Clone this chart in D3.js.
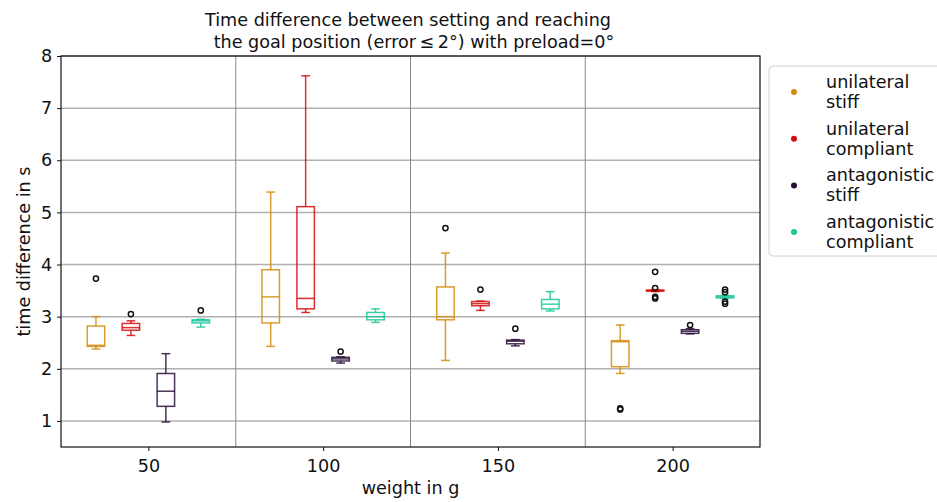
<!DOCTYPE html>
<html>
<head>
<meta charset="utf-8">
<script src="https://cdn.jsdelivr.net/npm/d3@7"></script>
<style>
  body { margin: 0; background: #fff; }
  svg text { font-family: "DejaVu Sans", sans-serif; fill: #111; }
</style>
</head>
<body>
<div id="chart"></div>
<script>
// data
const weights = [50, 100, 150, 200]
const seriesNames = ["unilateral stiff", "unilateral compliant", "antagonistic stiff", "antagonistic compliant"]
const seriesColors = ["#d38b0a", "#d60d0d", "#2c0e3a", "#1ac79b"]
const seriesOffsets = [-15, -5, 5, 15]
const yTicks = [1, 2, 3, 4, 5, 6, 7, 8]

// [whisker low, q1, median, q3, whisker high] for each weight
const uniStiff = [[2.38, 2.43, 2.45, 2.82, 3.0], [2.43, 2.88, 3.38, 3.90, 5.39], [2.16, 2.94, 3.0, 3.57, 4.22], [1.91, 2.04, 2.52, 2.54, 2.84]]
const uniCompliant = [[2.64, 2.74, 2.79, 2.87, 2.92], [3.08, 3.15, 3.35, 5.11, 7.62], [3.12, 3.21, 3.25, 3.29, 3.30], [3.48, 3.49, 3.50, 3.51, 3.52]]
const antStiff = [[0.98, 1.28, 1.57, 1.91, 2.29], [2.11, 2.15, 2.19, 2.22, 2.23], [2.44, 2.48, 2.53, 2.55, 2.56], [2.67, 2.68, 2.72, 2.75, 2.77]]
const antCompliant = [[2.80, 2.88, 2.92, 2.94, 2.95], [2.89, 2.94, 3.0, 3.08, 3.15], [3.11, 3.15, 3.24, 3.33, 3.48], [3.35, 3.36, 3.38, 3.40, 3.41]]

// outliers for each weight
const uniStiffOut = [[3.73], [], [4.70], [1.24, 1.22]]
const uniCompliantOut = [[3.05], [], [3.52], [3.86, 3.55, 3.38, 3.35]]
const antStiffOut = [[], [2.33], [2.77], [2.84]]
const antCompliantOut = [[3.12], [], [], [3.52, 3.47, 3.29, 3.25]]

const allStats = [uniStiff, uniCompliant, antStiff, antCompliant]
const allOutliers = [uniStiffOut, uniCompliantOut, antStiffOut, antCompliantOut]

const W = 937, H = 502
const margin = { top: 56, right: 177, bottom: 55, left: 61 }
const width = W - margin.left - margin.right
const height = H - margin.top - margin.bottom
const fs = 17.6

const svg = d3.select("#chart").append("svg")
    .attr("width", W)
    .attr("height", H)

const g = svg.append("g").attr("transform", `translate(${margin.left},${margin.top})`)

const xScale = d3.scaleLinear().domain([25, 225]).range([0, width])
const yScale = d3.scaleLinear().domain([0.5, 8]).range([height, 0])

// horizontal grid
g.selectAll(".hgrid")
    .data(yTicks)
    .enter()
    .append("line")
    .attr("x1", 0).attr("x2", width)
    .attr("y1", d => yScale(d)).attr("y2", d => yScale(d))
    .attr("stroke", "#b0b0b0")
    .attr("stroke-width", 1.5)

// group separators
g.selectAll(".vgrid")
    .data([75, 125, 175])
    .enter()
    .append("line")
    .attr("x1", d => xScale(d)).attr("x2", d => xScale(d))
    .attr("y1", 0).attr("y2", height)
    .attr("stroke", "#888")
    .attr("stroke-width", 1)

const boxW = xScale(5) - xScale(0)

allStats.forEach((stats, si) => {
  const color = seriesColors[si]
  stats.forEach((s, wi) => {
    const cx = xScale(weights[wi] + seriesOffsets[si])
    const bg = g.append("g")
      .attr("stroke", color)
      .attr("stroke-width", 1.5)
      .attr("stroke-opacity", 0.85)
      .attr("fill", "none")
    // whiskers
    bg.append("line").attr("x1", cx).attr("x2", cx).attr("y1", yScale(s[0])).attr("y2", yScale(s[1]))
    bg.append("line").attr("x1", cx).attr("x2", cx).attr("y1", yScale(s[3])).attr("y2", yScale(s[4]))
    // caps
    bg.append("line").attr("x1", cx - boxW / 4).attr("x2", cx + boxW / 4).attr("y1", yScale(s[0])).attr("y2", yScale(s[0]))
    bg.append("line").attr("x1", cx - boxW / 4).attr("x2", cx + boxW / 4).attr("y1", yScale(s[4])).attr("y2", yScale(s[4]))
    // box
    bg.append("rect")
      .attr("x", cx - boxW / 2)
      .attr("y", yScale(s[3]))
      .attr("width", boxW)
      .attr("height", yScale(s[1]) - yScale(s[3]))
    // median
    bg.append("line").attr("x1", cx - boxW / 2).attr("x2", cx + boxW / 2).attr("y1", yScale(s[2])).attr("y2", yScale(s[2]))

    g.selectAll(null)
      .data(allOutliers[si][wi])
      .enter()
      .append("circle")
      .attr("cx", cx)
      .attr("cy", d => yScale(d))
      .attr("r", 2.6)
      .attr("fill", "none")
      .attr("stroke", "#111")
      .attr("stroke-width", 1.5)
  })
})

// axes
const xAxis = d3.axisBottom(xScale).tickValues(weights).tickSize(4).tickSizeOuter(0)
const yAxis = d3.axisLeft(yScale).tickValues(yTicks).tickSize(4).tickSizeOuter(0)

const gx = g.append("g")
    .attr("transform", `translate(0,${height})`)
    .call(xAxis)
gx.select(".domain").remove()
gx.selectAll("text").attr("font-size", fs).attr("dy", "1.02em")

const gy = g.append("g").call(yAxis)
gy.select(".domain").remove()
gy.selectAll("text").attr("font-size", fs).attr("dx", "-0.1em")
svg.selectAll(".tick line").attr("stroke", "#111")

// frame
g.append("rect")
    .attr("width", width).attr("height", height)
    .attr("fill", "none")
    .attr("stroke", "#111")
    .attr("stroke-width", 1.2)

// labels
svg.append("text")
    .attr("x", margin.left + width / 2).attr("y", 494)
    .attr("text-anchor", "middle").attr("font-size", fs)
    .text("weight in g")

svg.append("text")
    .attr("transform", `translate(30,${margin.top + height / 2}) rotate(-90)`)
    .attr("text-anchor", "middle").attr("font-size", fs)
    .text("time difference in s")

const title = svg.append("text")
    .attr("text-anchor", "middle").attr("font-size", fs)
title.append("tspan").attr("x", margin.left + width / 2 - 2.5).attr("y", 26)
    .text("Time difference between setting and reaching")
title.append("tspan").attr("x", margin.left + width / 2 + 3.5).attr("y", 48)
    .text("the goal position (error\u2009\u2264\u20092°) with preload=0°")

// legend
const legend = svg.append("g").attr("transform", "translate(769,66)")
legend.append("rect")
    .attr("width", 180).attr("height", 190)
    .attr("rx", 4)
    .attr("fill", "#fff")
    .attr("stroke", "#d0d0d0")
    .attr("stroke-width", 1)

seriesNames.forEach((name, i) => {
  const yc = 26 + i * 46.7
  legend.append("circle")
    .attr("cx", 25).attr("cy", yc).attr("r", 3)
    .attr("fill", seriesColors[i])
  const parts = name.split(" ")
  const t = legend.append("text").attr("font-size", fs)
  t.append("tspan").attr("x", 57).attr("y", yc - 4).text(parts[0])
  t.append("tspan").attr("x", 57).attr("y", yc + 16).text(parts[1])
})
</script>
</body>
</html>
